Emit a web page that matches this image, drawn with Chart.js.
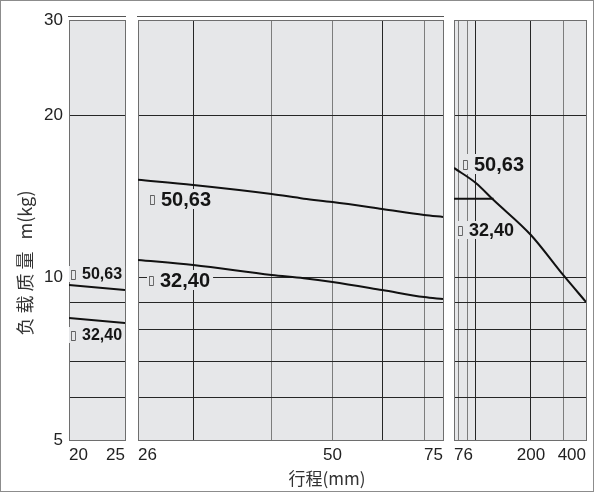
<!DOCTYPE html>
<html>
<head>
<meta charset="utf-8">
<script src="https://cdn.jsdelivr.net/npm/chart.js@4/dist/chart.umd.min.js"></script>
<style>
html, body { margin: 0; padding: 0; background: #fff; }
#frame { position: relative; width: 594px; height: 492px; overflow: hidden; background: #fff; }
#frame canvas { position: absolute; top: 0; }
#border { position: absolute; left: 0; top: 0; width: 594px; height: 492px; box-sizing: border-box; border: 1px solid #8c8c8c; pointer-events: none; }
.title { position: absolute; color: #333; font-family: "Noto Sans CJK SC", "Liberation Sans", sans-serif; white-space: nowrap; }
#ytitle { left: -76px; top: 250px; width: 200px; text-align: center; font-size: 18px; line-height: 26px; transform: rotate(-90deg); }
#ytitle .cjk { letter-spacing: 4px; }
#xtitle { left: 247px; top: 465px; width: 160px; text-align: center; font-size: 17px; line-height: 26px; }
</style>
</head>
<body>
<div id="frame">
  <canvas id="c1" width="131" height="492" style="left:0px"></canvas>
  <canvas id="c2" width="318" height="492" style="left:131px"></canvas>
  <canvas id="c3" width="145" height="492" style="left:449px"></canvas>
  <div class="title" id="ytitle"><span class="cjk">负载质量 </span>m(kg)</div>
  <div class="title" id="xtitle">行程(mm)</div>
  <div id="border"></div>
</div>
<script>
// ---------- data ----------
const yGridValues = [5, 6, 7, 8, 9, 10, 20, 30];
const yLabeledValues = [5, 10, 20, 30];

// panel 1 : stroke 20 .. 25
const p1Ticks = [20, 25];
const p1TickLabels = ['20', '25'];
const p1Stroke = [20, 25];
const p1Load5063 = [9.69, 9.48];
const p1Load3240 = [8.41, 8.24];

// panel 2 : stroke 26 .. 75
const p2Ticks = [24.5, 30, 40, 50, 60, 70, 75];
const p2TickLabels = ['26', '', '', '50', '', '', '75'];
const p2Stroke = [24.5, 30, 40, 45, 50, 60, 70, 75];
const p2Load5063 = [15.17, 14.84, 14.28, 14.0, 13.80, 13.40, 13.06, 12.95];
const p2Load3240 = [10.78, 10.55, 10.11, 9.97, 9.81, 9.48, 9.20, 9.12];

// panel 3 : stroke 76 .. 400
const p3Ticks = [76, 80, 90, 100, 200, 300, 400];
const p3TickLabels = ['76', '', '', '', '200', '', '400'];
const p3Stroke5063 = [76, 100, 125, 200, 300, 400];
const p3Load5063 = [15.96, 14.97, 13.92, 11.99, 10.11, 9.01];
const p3Stroke3240 = [76, 125];
const p3Load3240 = [14.0, 14.0];

const seriesNames = ['50,63', '32,40'];

// ---------- styles ----------
const FONT = '"Liberation Sans", Arial, sans-serif';
const PANEL_BG = '#e6e7e9';
const EDGE = '#6e6e6e';
const DARK = '#262626';
const MID = '#7d7d7d';
const darkX = [30, 60, 100, 200];

Chart.defaults.font.family = FONT;

const panelPlugin = {
  id: 'panelDeco',
  beforeDraw(chart, args, opts) {
    const { ctx, chartArea: a } = chart;
    ctx.save();
    ctx.fillStyle = PANEL_BG;
    ctx.fillRect(a.left, a.top, a.right - a.left, a.bottom - a.top);
    if (opts.topRule) {
      ctx.strokeStyle = '#555';
      ctx.lineWidth = 1;
      ctx.beginPath();
      ctx.moveTo(a.left - 1, Math.round(a.top) - 3.5);
      ctx.lineTo(a.right + 1, Math.round(a.top) - 3.5);
      ctx.stroke();
    }
    ctx.restore();
  },
  beforeDatasetsDraw(chart, args, opts) {
    const { ctx, scales: { x, y } } = chart;
    (opts.labels || []).forEach(it => {
      const px = Math.round(x.getPixelForValue(it.x));
      const py = Math.round(y.getPixelForValue(it.y));
      ctx.save();
      ctx.font = `bold ${it.size}px ${FONT}`;
      const tw = ctx.measureText(it.text).width;
      ctx.fillStyle = PANEL_BG;
      ctx.fillRect(px - 3, py - Math.round(it.size * 0.5), 10 + tw + 6, Math.round(it.size));
      ctx.textBaseline = 'middle';
      ctx.fillStyle = '#333';
      ctx.font = `12px "DejaVu Sans", sans-serif`;
      ctx.fillText('\u25AF', px - 2, py + 1);
      ctx.fillStyle = '#151515';
      ctx.font = `bold ${it.size}px ${FONT}`;
      ctx.fillText(it.text, px + 10, py + 1);
      ctx.restore();
    });
  }
};

function line(xs, ys, name) {
  return {
    label: name,
    data: xs.map((v, i) => ({ x: v, y: ys[i] })),
    borderColor: '#111',
    borderWidth: 2,
    pointRadius: 0,
    cubicInterpolationMode: 'monotone',
    fill: false
  };
}

function panel(id, xTicks, xLabels, datasets, o) {
  const xmin = xTicks[0], xmax = xTicks[xTicks.length - 1];
  return new Chart(document.getElementById(id), {
    type: 'line',
    data: { datasets },
    options: {
      responsive: false,
      animation: false,
      events: [],
      layout: { padding: { top: 20, bottom: 0, left: o.padL, right: o.padR } },
      plugins: {
        legend: { display: false },
        tooltip: { enabled: false },
        panelDeco: { topRule: o.topRule, labels: o.labels }
      },
      scales: {
        x: {
          type: 'logarithmic',
          min: xmin, max: xmax,
          afterBuildTicks: s => { s.ticks = xTicks.map(v => ({ value: v })); },
          afterFit: s => { s.height = 52; },
          ticks: {
            autoSkip: false, maxRotation: 0, minRotation: 0, align: 'inner',
            padding: 5, color: '#222', font: { size: 17 },
            callback: (v, i) => xLabels[i]
          },
          grid: {
            drawTicks: false, lineWidth: 1,
            color: c => {
              const v = c.tick ? c.tick.value : null;
              if (v === xmin || v === xmax) return EDGE;
              return darkX.includes(v) ? DARK : MID;
            }
          },
          border: { display: true, color: EDGE, width: 1 }
        },
        y: {
          type: 'logarithmic',
          min: 5, max: 30,
          afterBuildTicks: s => { s.ticks = yGridValues.map(v => ({ value: v })); },
          afterFit: s => { s.width = o.yWidth; },
          ticks: {
            display: o.yLabels, autoSkip: false, padding: 6, color: '#222', font: { size: 17 },
            callback: v => yLabeledValues.includes(v) ? String(v) : ''
          },
          grid: {
            drawTicks: false, lineWidth: 1,
            color: c => {
              const v = c.tick ? c.tick.value : null;
              return (v === 5 || v === 30) ? EDGE : DARK;
            }
          },
          border: { display: true, color: EDGE, width: 1 }
        }
      }
    },
    plugins: [panelPlugin]
  });
}

panel('c1', p1Ticks, p1TickLabels, [
  line(p1Stroke, p1Load5063, seriesNames[0]),
  line(p1Stroke, p1Load3240, seriesNames[1])
], {
  padL: 0, padR: 6, yWidth: 69, yLabels: true, topRule: true,
  labels: [
    { text: seriesNames[0], x: 20.24, y: 10.13, size: 16 },
    { text: seriesNames[1], x: 20.24, y: 7.83, size: 16 }
  ]
});

panel('c2', p2Ticks, p2TickLabels, [
  line(p2Stroke, p2Load5063, seriesNames[0]),
  line(p2Stroke, p2Load3240, seriesNames[1])
], {
  padL: 7, padR: 6, yWidth: 0, yLabels: false, topRule: true,
  labels: [
    { text: seriesNames[0], x: 25.69, y: 13.95, size: 20 },
    { text: seriesNames[1], x: 25.6, y: 9.90, size: 20 }
  ]
});

panel('c3', p3Ticks, p3TickLabels, [
  line(p3Stroke5063, p3Load5063, seriesNames[0]),
  line(p3Stroke3240, p3Load3240, seriesNames[1])
], {
  padL: 4, padR: 8, yWidth: 0, yLabels: false, topRule: false,
  labels: [
    { text: seriesNames[0], x: 86.1, y: 16.26, size: 20 },
    { text: seriesNames[1], x: 80.9, y: 12.27, size: 18 }
  ]
});
</script>
</body>
</html>
